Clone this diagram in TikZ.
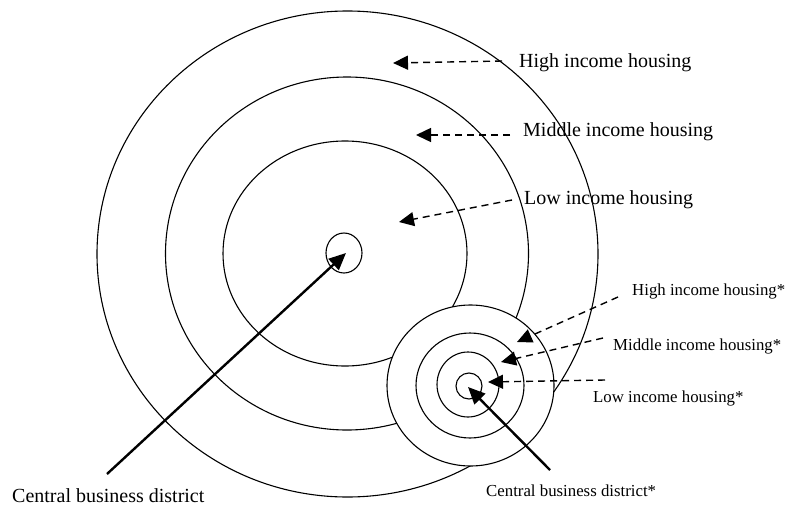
\documentclass[tikz,border=0pt]{standalone}
\usepackage{fontspec}
\setmainfont{Liberation Serif}
\usetikzlibrary{arrows.meta,shapes.geometric}

\tikzset{
  ring/.style={ellipse, draw, line width=1.1pt, inner sep=0pt, outer sep=0pt},
  zonearrow/.style={dashed, dash pattern=on 7pt off 5pt, line width=1.4pt,
    -{Triangle[length=15pt,width=14pt]}},
  cbdarrow/.style={line width=2.4pt, -{Triangle[length=17pt,width=15pt]}},
  biglabel/.style={anchor=base west, inner sep=0pt, font=\fontsize{20}{24}\selectfont},
  smalllabel/.style={anchor=base west, inner sep=0pt, font=\fontsize{16.8}{20}\selectfont},
}

\begin{document}
\begin{tikzpicture}[x=1pt, y=-1pt]
  \useasboundingbox (0,0) rectangle (787,506);

  % main city: concentric zones
  \node[ring, minimum width=501pt, minimum height=486pt] (outerA) at (347.5,254) {};
  \node[ring, minimum width=363pt, minimum height=353pt] (middleA) at (347,253.5) {};
  \node[ring, minimum width=244pt, minimum height=225pt] (lowA) at (345,253.5) {};
  \node[ring, minimum width=36pt, minimum height=40pt] (cbdA) at (344,253) {};

  % secondary centre, drawn over the main zones
  \node[ring, fill=white, minimum width=167pt, minimum height=161pt] (outerB) at (470.5,385.5) {};
  \node[ring, minimum width=108pt, minimum height=105pt] (middleB) at (470,385.5) {};
  \node[ring, minimum width=62pt, minimum height=65pt] (lowB) at (468,384.5) {};
  \node[ring, minimum width=26pt, minimum height=26pt] (cbdB) at (469,386) {};

  % labels
  \node[biglabel] (lblHigh) at (519,67) {High income housing};
  \node[biglabel] (lblMid) at (523,136) {Middle income housing};
  \node[biglabel] (lblLow) at (524,204) {Low income housing};
  \node[biglabel] (lblCBD) at (12,502) {Central business district};
  \node[smalllabel] (lblHighB) at (632,295) {High income housing*};
  \node[smalllabel] (lblMidB) at (613,350) {Middle income housing*};
  \node[smalllabel] (lblLowB) at (593,402) {Low income housing*};
  \node[smalllabel] (lblCBDB) at (486,496) {Central business district*};

  % arrow end points
  \coordinate (tHigh) at (502,61);   \coordinate (pHigh) at (393,63);
  \coordinate (tMid) at (510,135);   \coordinate (pMid) at (416,135);
  \coordinate (tLow) at (512,200);   \coordinate (pLow) at (399,222);
  \coordinate (tCBD) at (107,474);   \coordinate (pCBD) at (346,253);
  \coordinate (tHighB) at (618,297); \coordinate (pHighB) at (517,342);
  \coordinate (tMidB) at (603,338);  \coordinate (pMidB) at (501,362);
  \coordinate (tLowB) at (605,380);  \coordinate (pLowB) at (488,382);
  \coordinate (tCBDB) at (550,470);  \coordinate (pCBDB) at (468,387);

  % arrows
  \draw[zonearrow] (tHigh) -- (pHigh);
  \draw[zonearrow] (tMid) -- (pMid);
  \draw[zonearrow] (tLow) -- (pLow);
  \draw[cbdarrow] (tCBD) -- (pCBD);
  \draw[zonearrow] (tHighB) -- (pHighB);
  \draw[zonearrow] (tMidB) -- (pMidB);
  \draw[zonearrow] (tLowB) -- (pLowB);
  \draw[cbdarrow] (tCBDB) -- (pCBDB);
\end{tikzpicture}
\end{document}
